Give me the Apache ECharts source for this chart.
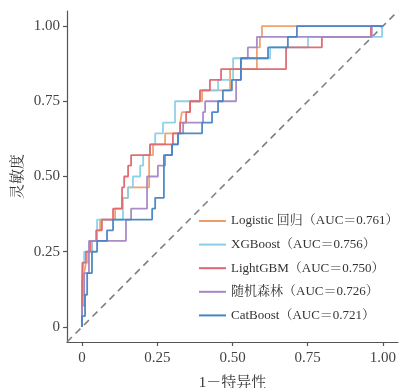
<!DOCTYPE html>
<html>
<head>
<meta charset="utf-8">
<script src="https://cdn.jsdelivr.net/npm/echarts@6/dist/echarts.min.js"></script>
<style>
html,body{margin:0;padding:0;background:#fff;}
#chart{width:399px;height:388px;}
</style>
</head>
<body>
<div id="chart"></div>
<script>
// ROC curve corner points (1 - specificity, sensitivity)
const modelNames = ['Logistic 回归（AUC＝0.761）','XGBoost（AUC＝0.756）','LightGBM（AUC＝0.750）','随机森林（AUC＝0.726）','CatBoost（AUC＝0.721）'];

const fprLogistic = [0,0,.007,.007,.013,.013,.020,.020,.033,.033,.050,.050,.060,.060,.110,.110,.133,.133,.153,.153,.223,.223,.236,.236,.276,.276,.326,.326,.332,.332,.359,.359,.399,.399,.492,.492,.581,.581,.591,.591,.598,.598,1];
const tprLogistic = [0,.107,.107,.179,.179,.214,.214,.25,.25,.286,.286,.321,.321,.357,.357,.393,.393,.429,.429,.464,.464,.571,.571,.607,.607,.643,.643,.679,.679,.714,.714,.75,.75,.786,.786,.857,.857,.929,.929,.964,.964,1,1];

const fprXGBoost = [0,0,.007,.007,.033,.033,.050,.050,.136,.136,.153,.153,.169,.169,.193,.193,.203,.203,.226,.226,.243,.243,.269,.269,.309,.309,.392,.392,.452,.452,.502,.502,.625,.625,.751,.751,.997,.997,1];
const tprXGBoost = [0,.214,.214,.25,.25,.286,.286,.357,.357,.429,.429,.464,.464,.5,.5,.536,.536,.571,.571,.607,.607,.643,.643,.679,.679,.75,.75,.786,.786,.821,.821,.893,.893,.929,.929,.964,.964,1,1];

const fprLightGBM = [0,0,.003,.003,.013,.013,.027,.027,.047,.047,.066,.066,.103,.103,.133,.133,.140,.140,.153,.153,.163,.163,.226,.226,.302,.302,.326,.326,.346,.346,.359,.359,.392,.392,.425,.425,.462,.462,.678,.678,.797,.797,.960,.960,1];
const tprLightGBM = [0,.143,.143,.214,.214,.25,.25,.286,.286,.321,.321,.357,.357,.393,.393,.464,.464,.5,.5,.536,.536,.571,.571,.607,.607,.643,.643,.679,.679,.714,.714,.75,.75,.786,.786,.821,.821,.857,.857,.929,.929,.964,.964,1,1];

const fprRF = [0,0,.007,.007,.023,.023,.146,.146,.163,.163,.216,.216,.252,.252,.276,.276,.299,.299,.319,.319,.336,.336,.402,.402,.409,.409,.512,.512,.528,.528,.551,.551,.581,.581,.963,.963,1];
const tprRF = [0,.071,.071,.179,.179,.286,.286,.357,.357,.393,.393,.5,.5,.536,.536,.571,.571,.607,.607,.643,.643,.679,.679,.714,.714,.75,.75,.821,.821,.893,.893,.929,.929,.964,.964,1,1];

const fprCatBoost = [0,0,.010,.010,.017,.017,.033,.033,.050,.050,.083,.083,.103,.103,.233,.233,.243,.243,.272,.272,.299,.299,.319,.319,.399,.399,.432,.432,.452,.452,.468,.468,.498,.498,.528,.528,.618,.618,.684,.684,.714,.714,1];
const tprCatBoost = [0,.036,.036,.107,.107,.179,.179,.25,.25,.286,.286,.321,.321,.357,.357,.393,.393,.429,.429,.571,.571,.607,.607,.643,.643,.679,.679,.714,.714,.75,.75,.786,.786,.821,.821,.893,.893,.929,.929,.964,.964,1,1];

const tickValues = [0, 0.25, 0.5, 0.75, 1];
const tickLabels = ['0', '0.25', '0.50', '0.75', '1.00'];
const diagonal = [[-0.05, -0.05], [1.05, 1.05]];

const colors = ['#EF9D68', '#8ACFE7', '#DE6670', '#A487C4', '#4784C4'];
const fprs = [fprLogistic, fprXGBoost, fprLightGBM, fprRF, fprCatBoost];
const tprs = [tprLogistic, tprXGBoost, tprLightGBM, tprRF, tprCatBoost];

const serifFont = "'Liberation Serif', 'Noto Serif CJK SC', 'Noto Sans CJK SC', serif";
const labelFmt = v => { const i = tickValues.indexOf(Math.round(v * 100) / 100); return i >= 0 ? tickLabels[i] : ''; };

const series = modelNames.map((name, i) => ({
  name: name,
  type: 'line',
  symbol: 'none',
  data: fprs[i].map((x, j) => [x, tprs[i][j]]),
  lineStyle: { color: colors[i], width: 1.8, opacity: 0.95 },
  itemStyle: { color: colors[i] },
  z: 3 + i
}));
series.unshift({
  name: 'diag',
  type: 'line',
  symbol: 'none',
  data: diagonal,
  lineStyle: { color: '#808080', width: 1.6, type: [7, 5] },
  z: 2,
  silent: true
});

const axisCommon = {
  type: 'value', min: -0.05, max: 1.05,
  splitLine: { show: false },
  axisLine: { show: true, onZero: false, lineStyle: { color: '#555', width: 1.2 } },
  axisTick: { show: true, customValues: tickValues, length: 4, lineStyle: { color: '#555', width: 1.2 } },
  nameMoveOverlap: false,
  nameTextStyle: { fontFamily: serifFont, fontSize: 15, color: '#333' }
};

const chart = echarts.init(document.getElementById('chart'), null, { renderer: 'canvas' });
chart.setOption({
  animation: false,
  backgroundColor: '#fff',
  grid: { left: 67, right: 1, top: 11, bottom: 46, containLabel: false, outerBoundsMode: 'none' },
  legend: {
    data: modelNames,
    orient: 'vertical',
    left: 194, top: 208,
    icon: 'rect', itemWidth: 27, itemHeight: 2,
    itemGap: 7.6,
    textStyle: { fontFamily: serifFont, fontSize: 13, color: '#333', lineHeight: 16 }
  },
  xAxis: Object.assign({}, axisCommon, {
    name: '1－特异性', nameLocation: 'middle', nameGap: 34,
    axisLabel: { customValues: tickValues, formatter: labelFmt, margin: 9, fontFamily: serifFont, fontSize: 15, color: '#444' }
  }),
  yAxis: Object.assign({}, axisCommon, {
    name: '灵敏度', nameLocation: 'middle', nameGap: 41, nameRotate: 90,
    axisLabel: { customValues: tickValues, formatter: labelFmt, margin: 7, fontFamily: serifFont, fontSize: 15, color: '#444' }
  }),
  series: series
});
</script>
</body>
</html>
